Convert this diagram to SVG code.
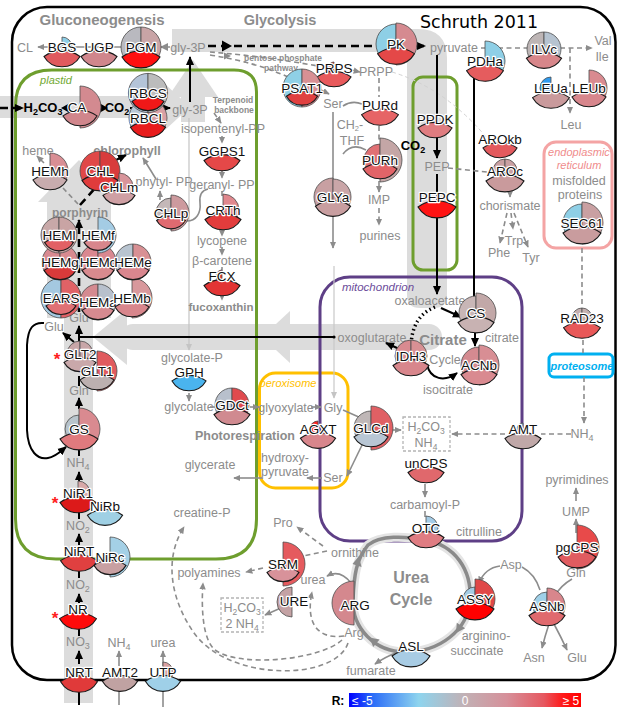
<svg xmlns="http://www.w3.org/2000/svg" width="633" height="714" viewBox="0 0 633 714">
<style>
.p{stroke:#4d4d4d;stroke-width:0.8}
.l{stroke:#1a1a1a;stroke-width:1.1}
.lb{font-family:"Liberation Sans",Arial,sans-serif;font-size:13.5px;text-anchor:middle;fill:#111;stroke:#fff;stroke-width:2.4px;paint-order:stroke;stroke-linejoin:round}
.t{font-family:"Liberation Sans",Arial,sans-serif;font-size:12.5px;fill:#8c8c8c;text-anchor:middle}
.h{font-family:"Liberation Sans",Arial,sans-serif;font-weight:bold;fill:#8c8c8c;text-anchor:middle}
.it{font-family:"Liberation Sans",Arial,sans-serif;font-style:italic;text-anchor:middle}
.bk{stroke:#000;stroke-width:2;fill:none}
.dk{stroke:#000;stroke-width:2.6;fill:none;stroke-dasharray:8 5}
.gs{stroke:#8c8c8c;stroke-width:1.6;fill:none}
.gd{stroke:#8c8c8c;stroke-width:1.6;fill:none;stroke-dasharray:5 3.5}
.fd{stroke:#d2d2d2;stroke-width:1;fill:none;stroke-dasharray:4 3}
.band{fill:#dcdcdc}
.cmp{fill:none}
</style>
<defs>
<path id="hl" d="M0,-20 A20,20 0 0 0 0,20 Z" vector-effect="non-scaling-stroke"/>
<path id="hr" d="M0,-20 A20,20 0 0 1 0,20 Z" vector-effect="non-scaling-stroke"/>
<path id="ln" d="M-20,10.5 A34,34 0 0 1 20,10.5 A23.14,23.14 0 0 1 -20,10.5 Z" vector-effect="non-scaling-stroke"/>
<marker id="ab" markerUnits="userSpaceOnUse" viewBox="0 0 10 10" markerWidth="10" markerHeight="10" refX="8" refY="5" orient="auto"><path d="M0,1 L9,5 L0,9 Z" fill="#000"/></marker>
<marker id="ag" markerUnits="userSpaceOnUse" viewBox="0 0 10 10" markerWidth="8" markerHeight="8" refX="8" refY="5" orient="auto"><path d="M0,1 L9,5 L0,9 Z" fill="#8c8c8c"/></marker>
<marker id="al" markerUnits="userSpaceOnUse" viewBox="0 0 10 10" markerWidth="8" markerHeight="8" refX="8" refY="5" orient="auto"><path d="M0,1 L9,5 L0,9 Z" fill="#c4c4c4"/></marker>
<linearGradient id="cb" x1="0" x2="1" y1="0" y2="0">
<stop offset="0" stop-color="#0000ff"/><stop offset="0.1" stop-color="#2a6cf8"/><stop offset="0.3" stop-color="#8ed4ee"/><stop offset="0.5" stop-color="#c2b0b4"/><stop offset="0.68" stop-color="#d6909a"/><stop offset="0.84" stop-color="#e65860"/><stop offset="0.92" stop-color="#ff1a1a"/><stop offset="1" stop-color="#ff0000"/>
</linearGradient>
</defs>
<rect width="633" height="714" fill="#fff"/>

<g id="bands" class="band">
<path d="M172,29 H418 Q447,29 447,58 V295 Q447,308 434,308 H420 Q407,308 407,295 V52 H172 Z"/>
<path d="M0,96 H165 V84 L190,107 L165,130 V118 H0 Z"/>
<path d="M181,122 V97 H168 L193,60 L218,97 H205 V122 Z"/>
<path d="M64,703 V318 H47 V202 H38 L79,160 L120,202 H111 V318 H93 V703 Z"/>
<rect x="120" y="324" width="322" height="26" rx="13"/>
<polygon points="290,311 262,337 290,363"/>
<polygon points="127,309 93,337 127,365"/>
</g>

<g id="compartments" class="cmp">
<rect x="12" y="7" width="603.5" height="673" rx="35" stroke="#000" stroke-width="2.5"/>
<path d="M52,70 H234 Q256.5,70 256.5,92 V519 Q256.5,559 216,559 H56 Q15.5,559 15.5,519 V106 Q15.5,70 52,70 Z" stroke="#6e9e2e" stroke-width="3"/>
<rect x="413" y="77" width="44" height="193" rx="10" stroke="#6e9e2e" stroke-width="3"/>
<rect x="259.5" y="373" width="88.5" height="115" rx="16" stroke="#ffc000" stroke-width="3"/>
<rect x="320" y="277" width="202" height="264" rx="30" stroke="#5e3f86" stroke-width="3"/>
<rect x="544" y="142" width="68" height="106" rx="12" stroke="#f4a4a4" stroke-width="3"/>
<rect x="549" y="354" width="64" height="23" rx="5" stroke="#00b0f0" stroke-width="3"/>
<rect x="403" y="417" width="47" height="34" fill="#fff" stroke="#b4b4b4" stroke-width="1.3" stroke-dasharray="3 2"/>
<rect x="221" y="598" width="42" height="34" fill="#fff" stroke="#b4b4b4" stroke-width="1.3" stroke-dasharray="3 2"/>
</g>

<g id="connectors">
<path class="gs" d="M170,47 L38,47" marker-end="url(#ag)"/>
<polygon points="160,47 168,43 168,51" fill="#8c8c8c"/>
<path class="dk" d="M208,46 L425,46" marker-end="url(#ab)"/>
<polygon points="222,40.5 232,46 222,51.5" fill="#000"/>
<path class="gd" d="M210,52 Q262,56 318,66"/>
<path class="gd" d="M210,55 Q255,62 288,77"/>
<polygon points="231,56 224,52.5 224,59.5" fill="#8c8c8c"/>
<path class="gd" d="M351,70 L360,72" marker-end="url(#ag)"/>
<path class="gs" d="M319,89 L329,94" marker-end="url(#ag)"/>
<path class="gs" d="M343,106 Q352,100 362,104"/>
<path class="gd" d="M379,78 L379,97"/>
<path class="gd" d="M379,126 L379,140"/>
<path class="gs" d="M343,154 Q352,142 366,150"/>
<path class="gd" d="M379,181 L379,192" marker-end="url(#ag)"/>
<path class="gd" d="M379,208 L379,225" marker-end="url(#ag)"/>
<path class="gs" d="M333,112 L333,182"/>
<path class="gs" d="M333,214 L333,248" marker-end="url(#ag)"/>
<path d="M334,266 L334,398" stroke="#c8c8c8" stroke-width="1.2" fill="none" marker-end="url(#al)"/>
<path class="fd" d="M392,72 Q445,88 487,138"/>
<path class="dk" d="M0,108 L23,108" marker-end="url(#ab)"/>
<path class="bk" d="M68,108 L64,108"/>
<polygon points="61,108 69,103.5 69,112.5" fill="#000"/>
<path class="bk" d="M96,108 L101,108"/>
<polygon points="108,108 100,103.5 100,112.5" fill="#000"/>
<path class="bk" d="M130,108 L170,108" stroke-width="2.4" marker-end="url(#ab)"/>
<path class="bk" d="M190,102 L190,57" marker-end="url(#ab)"/>
<path d="M189,118 L189,350" stroke="#c4c4c4" stroke-width="1.2" fill="none" marker-end="url(#al)"/>
<path class="gd" d="M214,113 L221,123" stroke-width="1.2" marker-end="url(#ag)"/>
<path class="gd" d="M222,136 L222,143" stroke-width="1.2" marker-end="url(#ag)"/>
<path class="gd" d="M222,169 L222,178" stroke-width="1.2" marker-end="url(#ag)"/>
<path class="gd" d="M222,191 L222,199" stroke-width="1.2"/>
<path class="gd" d="M222,228 L222,236" stroke-width="1.2" marker-end="url(#ag)"/>
<path class="gd" d="M222,247 L222,255" stroke-width="1.2" marker-end="url(#ag)"/>
<path class="gd" d="M222,267 L222,272" stroke-width="1.2"/>
<path class="gd" d="M222,293 L222,300" stroke-width="1.2" marker-end="url(#ag)"/>
<path class="dk" d="M79,312 L79,220" stroke-width="2.2" stroke-dasharray="5 3" marker-end="url(#ab)"/>
<path class="gd" d="M78,204 L63,188"/>
<path class="gd" d="M44,163 L37,156" marker-end="url(#ag)"/>
<path class="dk" d="M80,205 L97,186" stroke-width="2.2" stroke-dasharray="5 3"/>
<path class="bk" d="M110,163 L126,155" marker-end="url(#ab)"/>
<path class="gs" d="M156,179 L143,158" marker-end="url(#ag)"/>
<path class="gs" d="M160,200 L160,191" marker-end="url(#ag)"/>
<path class="gs" d="M185,221 C197,222 201,212 200,203 C199,194 203,190 208,189"/>
<path class="bk" d="M79,705 L79,690"/>
<path class="bk" d="M79,664 L79,651" marker-end="url(#ab)"/>
<path class="bk" d="M79,636 L79,626"/>
<path class="bk" d="M79,603 L79,594" marker-end="url(#ab)"/>
<path class="bk" d="M79,578 L79,568"/>
<path class="bk" d="M79,545 L79,534" marker-end="url(#ab)"/>
<path class="bk" d="M79,519 L79,510"/>
<path class="bk" d="M79,487 L79,472" marker-end="url(#ab)"/>
<path class="bk" d="M79,456 L79,447"/>
<path class="bk" d="M79,409 L79,398" marker-end="url(#ab)"/>
<path class="bk" d="M79,386 L79,376"/>
<path class="bk" d="M79,346 L79,326" marker-end="url(#ab)"/>
<path class="bk" d="M74,342 L63,333" marker-end="url(#ab)"/>
<path class="bk" d="M334,337 L79,337" stroke-width="1.8"/>
<circle cx="334" cy="337" r="1.6" fill="#000"/>
<path class="bk" d="M44,323 C33,322 28,328 27,345 L27,430 C28,452 38,460 48,458 C55,457 60,452 66,447" stroke-width="1.6" marker-end="url(#ab)"/>
<path class="gs" d="M119,705 L119,690"/>
<path class="gs" d="M119,666 L119,651" marker-end="url(#ag)"/>
<path class="gs" d="M163,707 L163,690"/>
<path class="gs" d="M163,666 L163,651" marker-end="url(#ag)"/>
<path class="bk" d="M437,55 L437,158" marker-end="url(#ab)"/>
<path class="bk" d="M437,174 L437,294" marker-end="url(#ab)"/>
<path class="bk" d="M474,72 L474,298"/>
<path class="gd" d="M481,48 L528,48"/>
<path class="gd" d="M560,48 L592,48" marker-end="url(#ag)"/>
<path class="gd" d="M570,48 L570,113" marker-end="url(#ag)"/>
<path class="gd" d="M448,168 L487,172" stroke="#a8a8a8" stroke-width="1.2"/>
<path class="gd" d="M510,186 L510,197" stroke-width="1.3" marker-end="url(#ag)"/>
<path class="gd" d="M507,213 L500,243" stroke-width="1.2" marker-end="url(#ag)"/>
<path class="gd" d="M511,213 L513,229" stroke-width="1.2" marker-end="url(#ag)"/>
<path class="gd" d="M514,213 L528,247" stroke-width="1.2" marker-end="url(#ag)"/>
<path class="bk" d="M441,308 L461,317" marker-end="url(#ab)"/>
<path d="M435,307 C420,313 411,326 411,348" stroke="#000" stroke-width="3.5" fill="none" stroke-dasharray="1.5 3"/>
<path class="bk" d="M475,333 L475,346" marker-end="url(#ab)"/>
<path class="bk" d="M427,364 C430,380 445,382 457,373" marker-end="url(#ab)"/>
<path class="bk" d="M406,352 L386,343" marker-end="url(#ab)"/>
<path class="gd" d="M582,248 L582,306"/>
<path class="gd" d="M583,340 L583,353"/>
<path class="gd" d="M584,377 L584,423" marker-end="url(#ag)"/>
<path class="gd" d="M571,434 L541,434" stroke-width="1.3"/>
<path class="gd" d="M505,434 L452,434" stroke-width="1.3" marker-end="url(#ag)"/>
<path class="gs" d="M189,393 L189,401" marker-end="url(#ag)"/>
<path class="gs" d="M210,407 L216,407"/>
<path class="gs" d="M250,407 L259,407" marker-end="url(#ag)"/>
<path class="gs" d="M311,407 L321,407" marker-end="url(#ag)"/>
<path class="gs" d="M343,410 L361,418"/>
<path class="gs" d="M390,430 L401,430" marker-end="url(#ag)"/>
<path class="gs" d="M364,441 L347,476" marker-end="url(#ag)"/>
<path class="gs" d="M322,478 L307,478" marker-end="url(#ag)"/>
<path class="gs" d="M262,478 L234,478" marker-end="url(#ag)"/>
<path class="gs" d="M425,484 L425,497" marker-end="url(#ag)"/>
<path class="gs" d="M425,511 L425,517"/>
<path d="M425,540 C455,545 472,570 470,600 C468,630 440,652 405,652 C375,652 352,628 353,600 C354,575 356,560 368,545 C380,535 405,536 425,540 Z" stroke="#e4e4e4" stroke-width="9" fill="none"/>
<path d="M425,540 C455,545 472,570 470,600 C468,630 440,652 405,652 C375,652 352,628 353,600 C354,575 356,560 368,545 C380,535 405,536 425,540 Z" stroke="#8a8a8a" stroke-width="3.5" fill="none"/>
<polygon points="359,556 361.5,567 352.5,564" fill="#8a8a8a"/>
<polygon points="369.5,637.5 379.6,639.5 373.2,647.1" fill="#8a8a8a"/>
<polygon points="456,633 465.1,628.3 456.8,622.8" fill="#8a8a8a"/>
<path class="gs" d="M351,583 Q340,569 327,576" stroke-width="2" marker-end="url(#ag)"/>
<path class="gd" d="M327,551 L303,556"/>
<path class="gd" d="M323,546 L297,527" marker-end="url(#ag)"/>
<path class="gd" d="M263,568 L246,572" marker-end="url(#ag)"/>
<path class="gs" d="M283,607 L265,615" marker-end="url(#ag)"/>
<path class="gd" d="M344,636 C315,640 306,620 312,592" marker-end="url(#ag)"/>
<path class="gd" d="M342,640 C320,660 240,668 215,650 C203,640 201,610 203,583" marker-end="url(#ag)"/>
<path class="gd" d="M348,643 C335,682 225,682 192,630 C172,600 163,560 184,527" marker-end="url(#ag)"/>
<path class="gs" d="M398,652 Q385,657 375,664" stroke-width="2" marker-end="url(#ag)"/>
<path class="gs" d="M500,566 Q485,568 479,583" stroke-width="2" marker-end="url(#ag)"/>
<path class="gs" d="M522,567 Q535,574 540,590" stroke-width="2"/>
<path class="gs" d="M572,579 Q560,586 555,596" stroke-width="2"/>
<path class="gs" d="M549,624 Q545,636 542,648" stroke-width="2" marker-end="url(#ag)"/>
<path class="gs" d="M554,624 Q561,637 567,650" stroke-width="2" marker-end="url(#ag)"/>
<path class="gs" d="M576,563 L576,567"/>
<path class="gs" d="M576,533 L576,519" stroke-width="2" marker-end="url(#ag)"/>
<path class="gs" d="M576,501 L576,488" stroke-width="2" marker-end="url(#ag)"/>
</g>

<g id="texts">
<text class="h" x="102" y="25" font-size="15">Gluconeogenesis</text>
<text class="h" x="280" y="25" font-size="14.5">Glycolysis</text>
<text x="479" y="28" font-family="DejaVu Sans, sans-serif" font-size="17.5" text-anchor="middle" fill="#000">Schruth 2011</text>
<text class="t" x="25" y="52">CL</text>
<text class="t" x="188" y="52">gly-3P</text>
<text class="t" x="190" y="114">gly-3P</text>
<text class="t" x="454" y="52">pyruvate</text>
<text class="t" x="603" y="45">Val</text>
<text class="t" x="602" y="61">Ile</text>
<text class="t" x="571" y="129">Leu</text>
<text class="t" x="376" y="76">PRPP</text>
<text class="t" x="333" y="108">Ser</text>
<text class="t" x="350" y="129" font-size="10.5">CH<tspan font-size="7.5" dy="2">2</tspan><tspan dy="-2">-</tspan></text>
<text class="t" x="352" y="145" font-size="10.5">THF</text>
<text class="t" x="379" y="204">IMP</text>
<text class="t" x="380" y="240">purines</text>
<text class="t" x="437" y="171">PEP</text>
<text class="t" x="510" y="210">chorismate</text>
<text class="t" x="499" y="257">Phe</text>
<text class="t" x="514" y="245">Trp</text>
<text class="t" x="531" y="262">Tyr</text>
<text class="h" x="283" y="61" font-size="8.5">pentose phosphate</text>
<text class="h" x="281" y="71" font-size="8.5">pathway</text>
<text class="h" x="233" y="103" font-size="8.5">Terpenoid</text>
<text class="h" x="234" y="113" font-size="8.5">backbone</text>
<text class="t" x="223" y="133" font-size="9.5">isopentenyl-PP</text>
<text class="t" x="222" y="189" font-size="10">geranyl- PP</text>
<text class="t" x="222" y="245" font-size="10">lycopene</text>
<text class="t" x="222" y="265" font-size="10">β-carotene</text>
<text class="h" x="221" y="311" font-size="11.5">fucoxanthin</text>
<text class="t" x="38" y="155" font-size="11.5">heme</text>
<text class="h" x="127" y="155" font-size="12.5">chlorophyll</text>
<text class="t" x="164" y="186" font-size="10">phytyl- PP</text>
<text class="h" x="80" y="217" font-size="12">porphyrin</text>
<text x="43" y="112" font-family="Liberation Sans, Arial, sans-serif" font-weight="bold" font-size="13" text-anchor="middle">H<tspan font-size="9" dy="3">2</tspan><tspan dy="-3">CO</tspan><tspan font-size="9" dy="3">3</tspan></text>
<text x="117" y="112" font-family="Liberation Sans, Arial, sans-serif" font-weight="bold" font-size="13" text-anchor="middle">CO<tspan font-size="9" dy="3">2</tspan></text>
<text x="413" y="150" font-family="Liberation Sans, Arial, sans-serif" font-weight="bold" font-size="13" text-anchor="middle">CO<tspan font-size="9" dy="3">2</tspan></text>
<text class="t" x="79" y="322">Glu</text>
<text class="t" x="54" y="331">Glu</text>
<text class="t" x="79" y="395">Gln</text>
<text class="t" x="78" y="467">NH<tspan font-size="9" dy="3">4</tspan></text>
<text class="t" x="78" y="530">NO<tspan font-size="9" dy="3">2</tspan></text>
<text class="t" x="78" y="589">NO<tspan font-size="9" dy="3">2</tspan></text>
<text class="t" x="78" y="646">NO<tspan font-size="9" dy="3">3</tspan></text>
<text class="t" x="119" y="647">NH<tspan font-size="9" dy="3">4</tspan></text>
<text class="t" x="163" y="647">urea</text>
<text class="t" x="192" y="362">glycolate-P</text>
<text class="t" x="189" y="411">glycolate</text>
<text class="t" x="286" y="412">glyoxylate</text>
<text class="t" x="333" y="412">Gly</text>
<text class="h" x="245" y="440" font-size="12.5">Photorespiration</text>
<text class="t" x="210" y="469">glycerate</text>
<text class="t" x="285" y="462">hydroxy-</text>
<text class="t" x="285" y="476">pyruvate</text>
<text class="t" x="333" y="482">Ser</text>
<text class="t" x="202" y="517">creatine-P</text>
<text class="t" x="283" y="527">Pro</text>
<text class="t" x="355" y="557">ornithine</text>
<text class="t" x="209" y="577">polyamines</text>
<text class="t" x="313" y="584">urea</text>
<text class="t" x="354" y="637">Arg</text>
<text class="t" x="371" y="675">fumarate</text>
<text class="t" x="430" y="305" font-size="12" fill="#9a9a9a">oxaloacetate</text>
<text class="t" x="502" y="342">citrate</text>
<text class="t" x="448" y="394">isocitrate</text>
<text class="t" x="372" y="342">oxoglutarate</text>
<text class="h" x="443" y="345" font-size="15">Citrate</text>
<text class="t" x="445" y="364" font-size="11.5" fill="#6a6a6a">Cycle</text>
<text class="t" x="426" y="431" font-size="12">H<tspan font-size="8.5" dy="3">2</tspan><tspan dy="-3">CO</tspan><tspan font-size="8.5" dy="3">3</tspan></text>
<text class="t" x="426" y="447" font-size="12">NH<tspan font-size="8.5" dy="3">4</tspan></text>
<text class="t" x="425" y="509">carbamoyl-P</text>
<text class="t" x="479" y="536">citrulline</text>
<text class="t" x="577" y="484">pyrimidines</text>
<text class="t" x="576" y="516">UMP</text>
<text class="t" x="576" y="577">Gln</text>
<text class="t" x="511" y="569">Asp</text>
<text class="t" x="534" y="662">Asn</text>
<text class="t" x="577" y="662">Glu</text>
<text class="t" x="486" y="640" font-size="11.5">arginino-</text>
<text class="t" x="477" y="655" font-size="11.5">succinate</text>
<text class="t" x="582" y="438">NH<tspan font-size="9" dy="3">4</tspan></text>
<text class="t" x="242" y="612" font-size="12">H<tspan font-size="8.5" dy="3">2</tspan><tspan dy="-3">CO</tspan><tspan font-size="8.5" dy="3">3</tspan></text>
<text class="t" x="242" y="628" font-size="12">2 NH<tspan font-size="8.5" dy="3">4</tspan></text>
<text class="h" x="411" y="583" font-size="16">Urea</text>
<text class="h" x="411" y="605" font-size="16">Cycle</text>
<text class="it" x="56" y="84" font-size="11" fill="#70a830">plastid</text>
<text class="it" x="378" y="291" font-size="11.5" fill="#6b4c9a">mitochondrion</text>
<text class="it" x="288" y="387" font-size="11" fill="#ffc000">peroxisome</text>
<text class="it" x="579" y="156" font-size="11" fill="#f08c8c">endoplasmic</text>
<text class="it" x="579" y="169" font-size="11" fill="#f08c8c">reticulum</text>
<text class="t" x="579" y="185" font-size="11">misfolded</text>
<text class="t" x="580" y="199" font-size="11">proteins</text>
<text class="it" x="582" y="370" font-size="11" font-weight="bold" fill="#00b0f0">proteosome</text>
<text x="57" y="365" font-family="Liberation Sans, Arial, sans-serif" font-weight="bold" font-size="17" fill="#ff2020" text-anchor="middle">*</text>
<text x="55" y="509" font-family="Liberation Sans, Arial, sans-serif" font-weight="bold" font-size="17" fill="#ff2020" text-anchor="middle">*</text>
<text x="55" y="624" font-family="Liberation Sans, Arial, sans-serif" font-weight="bold" font-size="17" fill="#ff2020" text-anchor="middle">*</text>
</g>

<g id="nodes">
<g id="BGS" transform="translate(62,47)"><use href="#hr" class="p" transform="scale(.5)" fill="#8ecfe8"/><use href="#ln" class="l" transform="scale(.9)" fill="#e05a5e"/><text class="lb" y="5">BGS</text></g>
<g id="UGP" transform="translate(99,47)"><use href="#ln" class="l" transform="scale(.9)" fill="#d0868c"/><text class="lb" y="5">UGP</text></g>
<g id="PGM" transform="translate(141,47)"><use href="#hl" class="p" fill="#b9b9bf"/><use href="#hr" class="p" fill="#c9a4a6"/><use href="#ln" class="l" transform="scale(.95)" fill="#ff1010"/><text class="lb" y="5">PGM</text></g>
<g id="PK" transform="translate(396,44)"><use href="#hl" class="p" fill="#8ecfe6"/><use href="#hr" class="p" transform="scale(1.05)" fill="#d58a90"/><use href="#ln" class="l" transform="scale(.92)" fill="#e44848"/><text class="lb" y="5">PK</text></g>
<g id="PDHa" transform="translate(485,61)"><use href="#hr" class="p" fill="#8ecfe6"/><use href="#ln" class="l" transform="scale(.92)" fill="#e55c5e"/><text class="lb" y="5">PDHa</text></g>
<g id="ILVc" transform="translate(544,49)"><use href="#hl" class="p" transform="scale(.85)" fill="#bdb5b5"/><use href="#hr" class="p" transform="scale(.85)" fill="#b6c3d0"/><use href="#ln" class="l" transform="scale(.88)" fill="#d7868a"/><text class="lb" y="5">ILVc</text></g>
<g id="LEUa" transform="translate(551,88)"><use href="#hl" class="p" transform="scale(.55)" fill="#2f9bef"/><use href="#ln" class="l" transform="scale(.92)" fill="#c99a9c"/><text class="lb" y="5">LEUa</text></g>
<g id="LEUb" transform="translate(589,88)"><use href="#hr" class="p" transform="scale(.9)" fill="#d98a90"/><use href="#ln" class="l" transform="scale(.85)" fill="#d7868c"/><text class="lb" y="5">LEUb</text></g>
<g id="CA" transform="translate(80,107)"><use href="#hr" class="p" transform="scale(1.05)" fill="#d38a90"/><use href="#ln" class="l" transform="scale(.85)" fill="#d0868c"/><text class="lb" x="-3" y="5">CA</text></g>
<g id="RBCL" transform="translate(148,118)"><use href="#hl" class="p" transform="scale(.95)" fill="#b8c8d8"/><use href="#hr" class="p" transform="scale(.95)" fill="#d8a0a4"/><use href="#ln" class="l" transform="scale(.88)" fill="#e81c1c"/><text class="lb" y="5">RBCL</text></g>
<g id="RBCS" transform="translate(148,93)"><use href="#hl" class="p" transform="scale(.98)" fill="#b4c4d8"/><use href="#hr" class="p" transform="scale(.98)" fill="#bcbcbc"/><use href="#ln" class="l" transform="scale(.8)" fill="#f01818"/><text class="lb" y="5">RBCS</text></g>
<g id="PRPS" transform="translate(334,68)"><use href="#hl" class="p" transform="scale(.3)" fill="#e03030"/><use href="#ln" class="l" transform="scale(.85)" fill="#e85a5c"/><text class="lb" y="5">PRPS</text></g>
<g id="PSAT1" transform="translate(302,88)"><use href="#hl" class="p" transform="scale(.95)" fill="#8fd0e6"/><use href="#hr" class="p" transform="scale(.95)" fill="#d89094"/><use href="#ln" class="l" transform="scale(.78)" fill="#e04040"/><text class="lb" y="5">PSAT1</text></g>
<g id="PURd" transform="translate(380,105)"><use href="#ln" class="l" transform="scale(.92)" fill="#e66466"/><text class="lb" y="5">PURd</text></g>
<g id="PURh" transform="translate(380,160)"><use href="#hl" class="p" transform="scale(.8)" fill="#e07074"/><use href="#hr" class="p" transform="scale(1.1)" fill="#c4a6a6"/><use href="#ln" class="l" transform="scale(.85)" fill="#e26468"/><text class="lb" y="5">PURh</text></g>
<g id="PPDK" transform="translate(435,119)"><use href="#ln" class="l" transform="scale(.85)" fill="#df7c80"/><text class="lb" y="5">PPDK</text></g>
<g id="PEPC" transform="translate(437,197)"><use href="#ln" class="l" transform="scale(.95)" fill="#ff1414"/><text class="lb" y="5">PEPC</text></g>
<g id="AROkb" transform="translate(500,139)"><use href="#ln" class="l" transform="scale(.85)" fill="#e35a5e"/><text class="lb" y="5">AROkb</text></g>
<g id="AROc" transform="translate(505,171)"><use href="#hl" class="p" transform="scale(.6)" fill="#c9a0a2"/><use href="#hr" class="p" transform="scale(.6)" fill="#c9a0a2"/><use href="#ln" class="l" transform="scale(.95)" fill="#c99a9c"/><text class="lb" y="5">AROc</text></g>
<g id="SEC61" transform="translate(582,223)"><use href="#hl" class="p" transform="scale(.95)" fill="#8ecfe6"/><use href="#hr" class="p" transform="scale(1.05)" fill="#c9a0a2"/><use href="#ln" class="l" transform="scale(.95)" fill="#c99c9e"/><text class="lb" y="5">SEC61</text></g>
<g id="RAD23" transform="translate(582,318)"><use href="#hl" class="p" transform="scale(.5)" fill="#c4b0b0"/><use href="#hr" class="p" transform="scale(.5)" fill="#c4b0b0"/><use href="#ln" class="l" transform="scale(.92)" fill="#e85858"/><text class="lb" y="5">RAD23</text></g>
<g id="GGPS1" transform="translate(222,151)"><use href="#ln" class="l" transform="scale(.9)" fill="#e54848"/><text class="lb" y="5">GGPS1</text></g>
<g id="CRTh" transform="translate(223,210)"><use href="#hr" class="p" transform="scale(.8)" fill="#e0888e"/><use href="#ln" class="l" transform="scale(.9)" fill="#e23c3c"/><text class="lb" y="5">CRTh</text></g>
<g id="FCX" transform="translate(222,276)"><use href="#hl" class="p" transform="scale(.3)" fill="#e03030"/><use href="#ln" class="l" transform="scale(.9)" fill="#e23434"/><text class="lb" y="5">FCX</text></g>
<g id="GLYa" transform="translate(333,197)"><use href="#hl" class="p" transform="scale(.95)" fill="#c8a0a2"/><use href="#hr" class="p" transform="scale(.9)" fill="#caa6a8"/><use href="#ln" class="l" transform="scale(.88)" fill="#c89ea0"/><text class="lb" y="5">GLYa</text></g>
<g id="HEMh" transform="translate(50,171)"><use href="#hr" class="p" transform="scale(.9)" fill="#d98e94"/><use href="#ln" class="l" transform="scale(.85)" fill="#c8acae"/><text class="lb" y="5">HEMh</text></g>
<g id="CHL" transform="translate(100,171)"><use href="#hl" class="p" fill="#e04848"/><use href="#hr" class="p" fill="#d83c3c"/><use href="#ln" class="l" transform="scale(.9)" fill="#e03c3c"/><text class="lb" y="5">CHL</text></g>
<g id="CHLm" transform="translate(119,187)"><use href="#hr" class="p" transform="scale(.7)" fill="#d8949a"/><use href="#ln" class="l" transform="scale(.8)" fill="#cfa0a4"/><text class="lb" y="5" font-size="12.5">CHLm</text></g>
<g id="CHLp" transform="translate(171,213)"><use href="#hl" class="p" transform="scale(.75)" fill="#c4b8b8"/><use href="#hr" class="p" transform="scale(.9)" fill="#cd9a9e"/><use href="#ln" class="l" transform="scale(.72)" fill="#e06a70"/><text class="lb" y="5">CHLp</text></g>
<g id="EARS" transform="translate(61,298)"><use href="#hl" class="p" fill="#a4c8e0"/><use href="#hr" class="p" fill="#e06266"/><use href="#ln" class="l" transform="scale(.75)" fill="#e07074"/><text class="lb" y="5">EARS</text></g>
<g id="HEMa" transform="translate(98,302)"><use href="#hl" class="p" transform="scale(.9)" fill="#d48a90"/><use href="#hr" class="p" transform="scale(.9)" fill="#b8c0cc"/><use href="#ln" class="l" transform="scale(.8)" fill="#d68a90"/><text class="lb" y="5" font-size="12.5">HEMa</text></g>
<g id="HEMb" transform="translate(132,298)"><use href="#hr" class="p" fill="#d8989c"/><use href="#ln" class="l" transform="scale(.85)" fill="#d8868c"/><text class="lb" y="5" font-size="12.5">HEMb</text></g>
<g id="HEMg" transform="translate(60,262)"><use href="#hl" class="p" transform="scale(.9)" fill="#d88a90"/><use href="#hr" class="p" transform="scale(.9)" fill="#d88a90"/><use href="#ln" class="l" transform="scale(.8)" fill="#d83a3a"/><text class="lb" y="5" font-size="12.5">HEMg</text></g>
<g id="HEMc" transform="translate(98,262)"><use href="#hl" class="p" transform="scale(.9)" fill="#d98890"/><use href="#hr" class="p" transform="scale(.9)" fill="#d98890"/><use href="#ln" class="l" transform="scale(.8)" fill="#d88a8e"/><text class="lb" y="5" font-size="12.5">HEMc</text></g>
<g id="HEMe" transform="translate(133,262)"><use href="#hl" class="p" transform="scale(.9)" fill="#b8c4d0"/><use href="#hr" class="p" transform="scale(.9)" fill="#d89094"/><use href="#ln" class="l" transform="scale(.8)" fill="#d9868e"/><text class="lb" y="5" font-size="12.5">HEMe</text></g>
<g id="HEMl" transform="translate(59,235)"><use href="#hl" class="p" transform="scale(.9)" fill="#c8a8a8"/><use href="#hr" class="p" transform="scale(.9)" fill="#c9a4a4"/><use href="#ln" class="l" transform="scale(.72)" fill="#e26064"/><text class="lb" y="5" font-size="12.5">HEMl</text></g>
<g id="HEMf" transform="translate(98,235)"><use href="#hr" class="p" transform="scale(.9)" fill="#a4cce4"/><use href="#ln" class="l" transform="scale(.7)" fill="#d8868c"/><text class="lb" y="5" font-size="12.5">HEMf</text></g>
<g id="GLT2" transform="translate(80,354)"><use href="#hl" class="p" transform="scale(.65)" fill="#c8a6a8"/><use href="#hr" class="p" transform="scale(.65)" fill="#c8a6a8"/><use href="#ln" class="l" transform="scale(.8)" fill="#c9a8aa"/><text class="lb" y="5">GLT2</text></g>
<g id="GLT1" transform="translate(97,371)"><use href="#hr" class="p" fill="#e05a5e"/><use href="#ln" class="l" transform="scale(.85)" fill="#bcb0b0"/><text class="lb" y="5">GLT1</text></g>
<g id="GS" transform="translate(79,429)"><use href="#hl" class="p" transform="scale(.7)" fill="#b8c4cc"/><use href="#hr" class="p" transform="scale(1.05)" fill="#d98a90"/><use href="#ln" class="l" transform="scale(.95)" fill="#e07a7e"/><text class="lb" y="5">GS</text></g>
<g id="NiR1" transform="translate(78,493)"><use href="#hr" class="p" transform="scale(.6)" fill="#d8a8a8"/><use href="#ln" class="l" transform="scale(.9)" fill="#dc1a1a"/><text class="lb" y="5">NiR1</text></g>
<g id="NiRb" transform="translate(105,506)"><use href="#ln" class="l" transform="scale(.88)" fill="#9fd0e4"/><text class="lb" y="5">NiRb</text></g>
<g id="NiRT" transform="translate(79,551)"><use href="#ln" class="l" transform="scale(.92)" fill="#e04040"/><text class="lb" y="5">NiRT</text></g>
<g id="NiRc" transform="translate(110,557)"><use href="#hr" class="p" fill="#a4d0e6"/><use href="#ln" class="l" transform="scale(.8)" fill="#c8a0a2"/><text class="lb" y="5">NiRc</text></g>
<g id="NR" transform="translate(78,609)"><use href="#ln" class="l" transform="scale(.92)" fill="#ff0a0a"/><text class="lb" y="5">NR</text></g>
<g id="NRT" transform="translate(79,672)"><use href="#ln" class="l" transform="scale(.92)" fill="#e03a3a"/><text class="lb" y="5">NRT</text></g>
<g id="AMT2" transform="translate(120,672)"><use href="#ln" class="l" transform="scale(.88)" fill="#c0a2a2"/><text class="lb" y="5">AMT2</text></g>
<g id="UTP" transform="translate(163,672)"><use href="#hr" class="p" transform="scale(.5)" fill="#d8a0a0"/><use href="#ln" class="l" transform="scale(.88)" fill="#9fd0e8"/><text class="lb" y="5">UTP</text></g>
<g id="GPH" transform="translate(189,372)"><use href="#ln" class="l" transform="scale(.85)" fill="#4ab4ee"/><text class="lb" y="5">GPH</text></g>
<g id="GDCt" transform="translate(232,405)"><use href="#hl" class="p" transform="scale(.85)" fill="#b8c0cc"/><use href="#hr" class="p" transform="scale(.85)" fill="#e04a4e"/><use href="#ln" class="l" transform="scale(.9)" fill="#d08a90"/><text class="lb" y="5">GDCt</text></g>
<g id="AGXT" transform="translate(318,429)"><use href="#hl" class="p" transform="scale(.4)" fill="#ff2020"/><use href="#ln" class="l" transform="scale(.88)" fill="#d8868c"/><text class="lb" y="5">AGXT</text></g>
<g id="GLCd" transform="translate(371,428)"><use href="#hl" class="p" transform="scale(.85)" fill="#bfb7b7"/><use href="#hr" class="p" transform="scale(1.1)" fill="#e06064"/><use href="#ln" class="l" transform="scale(.85)" fill="#b8c6d4"/><text class="lb" y="5">GLCd</text></g>
<g id="unCPS" transform="translate(426,463)"><use href="#ln" class="l" transform="scale(.9)" fill="#e0686c"/><text class="lb" y="5">unCPS</text></g>
<g id="OTC" transform="translate(426,528)"><use href="#hr" class="p" transform="scale(.6)" fill="#a4cce6"/><use href="#ln" class="l" transform="scale(.9)" fill="#df7c82"/><text class="lb" y="5">OTC</text></g>
<g id="CS" transform="translate(476,313)"><use href="#hl" class="p" transform="scale(.85)" fill="#c8b6b6"/><use href="#hr" class="p" fill="#c2a8a8"/><use href="#ln" class="l" transform="scale(.9)" fill="#c8b2b2"/><text class="lb" y="5">CS</text></g>
<g id="IDH3" transform="translate(411,356)"><use href="#hl" class="p" transform="scale(.8)" fill="#d88a90"/><use href="#hr" class="p" transform="scale(.8)" fill="#d89094"/><use href="#ln" class="l" transform="scale(.9)" fill="#d8868c"/><text class="lb" y="5">IDH3</text></g>
<g id="ACNb" transform="translate(479,365)"><use href="#hl" class="p" transform="scale(.9)" fill="#d48a90"/><use href="#hr" class="p" fill="#d88e94"/><use href="#ln" class="l" transform="scale(.9)" fill="#d98a90"/><text class="lb" y="5">ACNb</text></g>
<g id="AMT" transform="translate(523,429)"><use href="#hl" class="p" transform="scale(.3)" fill="#6ab8e8"/><use href="#ln" class="l" transform="scale(.9)" fill="#c0a8a8"/><text class="lb" y="5">AMT</text></g>
<g id="pgCPS" transform="translate(577,547)"><use href="#hr" class="p" transform="scale(1.1)" fill="#e84a4a"/><use href="#ln" class="l" transform="scale(.95)" fill="#e05c60"/><text class="lb" y="5">pgCPS</text></g>
<g id="SRM" transform="translate(283,564)"><use href="#hr" class="p" transform="scale(1.1)" fill="#e55a5e"/><use href="#ln" class="l" transform="scale(.8)" fill="#d8929a"/><text class="lb" y="5">SRM</text></g>
<g id="URE" transform="translate(292,602)"><use href="#hl" class="p" transform="scale(.75)" fill="#c4a2a4"/><text class="lb" x="2" y="4" font-size="10.5">URE</text></g>
<g id="ARG" transform="translate(354,603)"><use href="#hl" class="p" transform="scale(1.1)" fill="#d4888e"/><text class="lb" x="1" y="7">ARG</text></g>
<g id="ASSY" transform="translate(475,599)"><use href="#hl" class="p" transform="scale(.6)" fill="#a4cce4"/><use href="#hr" class="p" fill="#e04848"/><use href="#ln" class="l" transform="scale(.95)" fill="#ff0000"/><text class="lb" y="5">ASSY</text></g>
<g id="ASL" transform="translate(411,646)"><use href="#ln" class="l" transform="scale(.95)" fill="#a8cce4"/><text class="lb" y="5">ASL</text></g>
<g id="ASNb" transform="translate(547,606)"><use href="#hl" class="p" transform="scale(.7)" fill="#9fd0e8"/><use href="#hr" class="p" transform="scale(.9)" fill="#d8868c"/><use href="#ln" class="l" transform="scale(.9)" fill="#e06a6e"/><text class="lb" y="5">ASNb</text></g>
</g>

<g id="legend">
<text x="338" y="705" font-family="Liberation Sans, Arial, sans-serif" font-weight="bold" font-size="12" text-anchor="middle">R:</text>
<rect x="349" y="693" width="232" height="14" fill="url(#cb)"/>
<text x="352" y="705" font-family="Liberation Sans, Arial, sans-serif" font-size="12" fill="#fff">≤ -5</text>
<text x="465" y="705" font-family="Liberation Sans, Arial, sans-serif" font-size="12" fill="#fff" text-anchor="middle">0</text>
<text x="571" y="705" font-family="Liberation Sans, Arial, sans-serif" font-size="12" fill="#fff" text-anchor="middle">≥ 5</text>
</g>
</svg>
